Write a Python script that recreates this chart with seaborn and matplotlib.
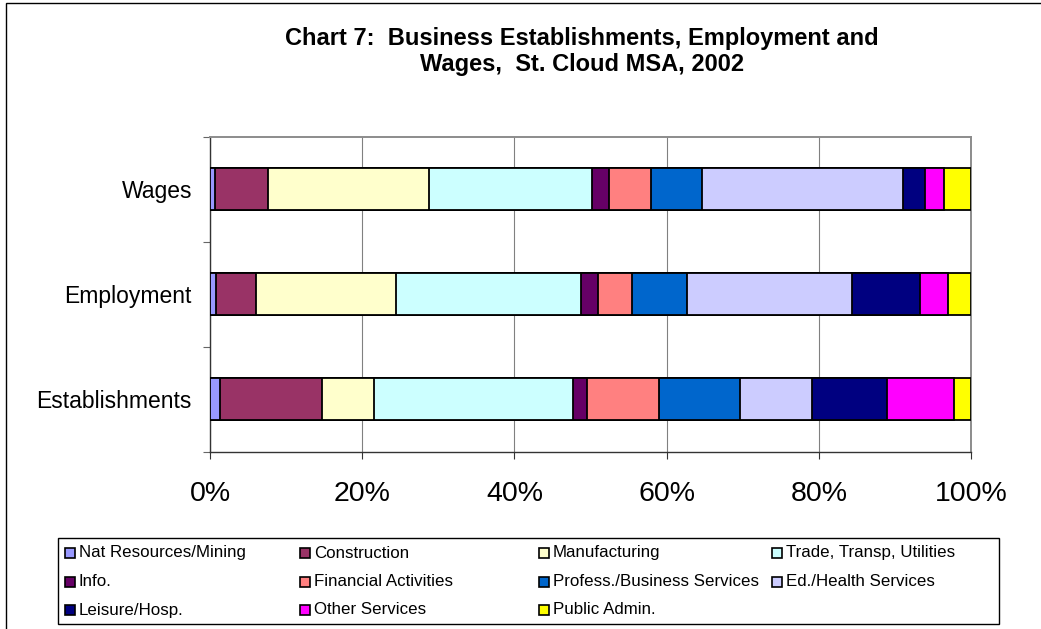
import numpy as np
import pandas as pd
import matplotlib
matplotlib.use("Agg")
import matplotlib.pyplot as plt
from matplotlib.patches import Rectangle
from matplotlib.ticker import PercentFormatter, FixedLocator
import seaborn as sns

# Share of each industry (percent) in wages, employment and establishments
measures = ["Wages", "Employment", "Establishments"]
industries = [
    "Nat Resources/Mining", "Construction", "Manufacturing",
    "Trade, Transp, Utilities", "Info.", "Financial Activities",
    "Profess./Business Services", "Ed./Health Services",
    "Leisure/Hosp.", "Other Services", "Public Admin.",
]
wages = [0.7, 6.9, 21.2, 21.4, 2.2, 5.5, 6.8, 26.3, 3.0, 2.4, 3.6]
employment = [0.8, 5.2, 18.5, 24.2, 2.3, 4.4, 7.3, 21.7, 8.9, 3.7, 3.0]
establishments = [1.3, 13.4, 6.9, 26.1, 1.8, 9.5, 10.6, 9.5, 9.9, 8.8, 2.2]
colors = [
    "#9999FF", "#993366", "#FFFFCC", "#CCFFFF", "#660066", "#FF8080",
    "#0066CC", "#CCCCFF", "#000080", "#FF00FF", "#FFFF00",
]
x_ticks = [0, 20, 40, 60, 80, 100]
title_lines = ["Chart 7:  Business Establishments, Employment and",
               "Wages,  St. Cloud MSA, 2002"]

sns.set_theme(style="white")
plt.rcParams["font.family"] = ["Liberation Sans", "DejaVu Sans"]
plt.rcParams["text.color"] = "black"
plt.rcParams["xtick.color"] = "black"
plt.rcParams["ytick.color"] = "black"
plt.rcParams["axes.labelcolor"] = "black"

# Long table with the running total of each stacked segment
rows = []
for m, vals in zip(measures, [wages, employment, establishments]):
    total = sum(vals)
    cum = np.cumsum(vals) / total * 100
    for ind, c in zip(industries, cum):
        rows.append({"measure": m, "industry": ind, "cum": c})
df = pd.DataFrame(rows)

W, H = 1041, 629
fig = plt.figure(figsize=(W / 100, H / 100), dpi=100)
ax = fig.add_axes([210 / W, 1 - 451.5 / H, (971 - 210) / W, (451.5 - 137) / H])

# Draw stacks from the outermost segment inward so each one overlays the next
for ind, col in reversed(list(zip(industries, colors))):
    sub = df[df["industry"] == ind]
    sns.barplot(
        data=sub, x="cum", y="measure", order=measures, orient="h",
        color=col, saturation=1, width=0.4, errorbar=None,
        edgecolor="black", linewidth=1.3, ax=ax, zorder=3,
    )

ax.set_xlim(0, 100)
ax.set_ylim(2.5, -0.5)
ax.set_xlabel("")
ax.set_ylabel("")
ax.xaxis.set_major_locator(FixedLocator(x_ticks))
ax.xaxis.set_major_formatter(PercentFormatter(xmax=100, decimals=0))
ax.yaxis.set_minor_locator(FixedLocator([-0.5, 0.5, 1.5, 2.5]))

ax.xaxis.grid(True, color="#808080", linewidth=0.8)
ax.set_axisbelow(True)

for side in ["left", "bottom"]:
    ax.spines[side].set_color("#333333")
    ax.spines[side].set_linewidth(1.0)
    ax.spines[side].set_visible(True)
for side in ["top", "right"]:
    ax.spines[side].set_color("#8c8c8c")
    ax.spines[side].set_linewidth(1.4)
    ax.spines[side].set_visible(True)

ax.tick_params(axis="x", which="major", direction="out", length=5, width=0.8,
               color="#333333", labelsize=20.5, pad=16, bottom=True)
ax.tick_params(axis="y", which="major", length=0, labelsize=16.5, pad=13)
ax.tick_params(axis="y", which="minor", direction="out", length=5, width=0.8,
               color="#666666", left=True)

# Two-line bold title
for line, yb in zip(title_lines, [45, 71]):
    fig.text(582 / W, 1 - yb / H, line, ha="center", va="baseline",
             fontsize=17, fontweight="bold")

# Legend laid out in four columns inside a framed box
box_l, box_r, box_t, box_b = 58, 999, 538, 624
fig.add_artist(Rectangle((box_l / W, 1 - box_b / H), (box_r - box_l) / W,
                         (box_b - box_t) / H, transform=fig.transFigure,
                         facecolor="white", edgecolor="black", linewidth=1.0))
col_x = [65, 300, 539, 772]
row_y = [553, 581.5, 610]
order = [[0, 1, 2, 3], [4, 5, 6, 7], [8, 9, 10]]
sq = 10
for r, idxs in enumerate(order):
    for c, i in enumerate(idxs):
        x0, yc = col_x[c], row_y[r]
        fig.add_artist(Rectangle((x0 / W, 1 - (yc + sq / 2) / H), sq / W, sq / H,
                                 transform=fig.transFigure, facecolor=colors[i],
                                 edgecolor="black", linewidth=1.2))
        fig.text((x0 + 14) / W, 1 - yc / H, industries[i], ha="left",
                 va="center", fontsize=12.2)

# Outer frame of the chart (open to the right and bottom)
fig.add_artist(Rectangle((6 / W, -0.05), 1.1, 1.05 - 3 / H,
                         transform=fig.transFigure, facecolor="none",
                         edgecolor="black", linewidth=1.0))

fig.savefig("out.png", dpi=100, facecolor="white")
